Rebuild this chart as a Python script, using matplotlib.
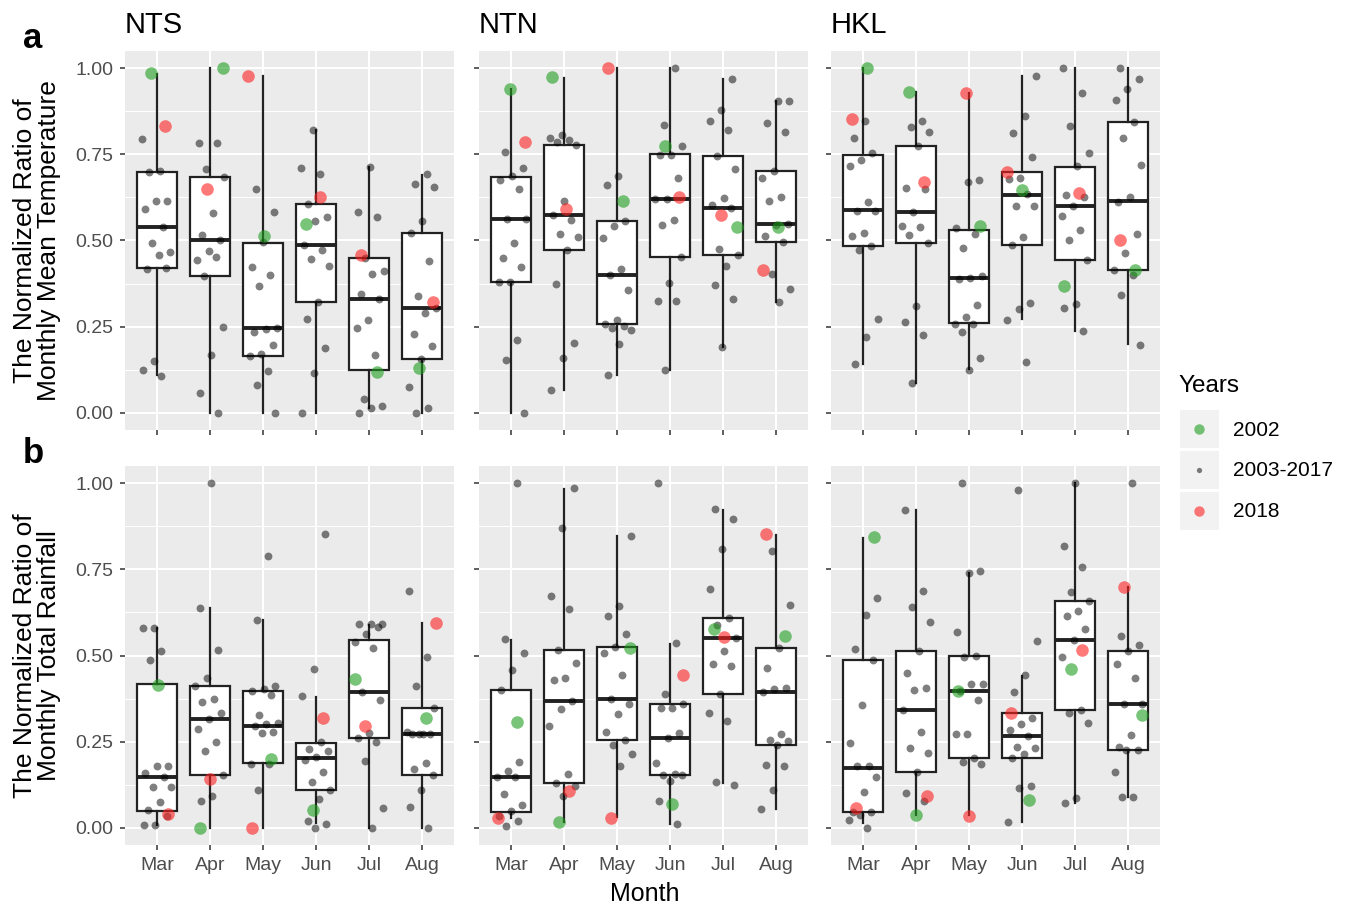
"""
Normalized monthly temperature / rainfall ratios, boxplots with jittered years.

matplotlib: everything is drawn with bxp() and scatter()
"""

import numpy as np
import matplotlib
matplotlib.use("Agg")
import matplotlib.pyplot as plt
from matplotlib.lines import Line2D
from matplotlib.patches import Rectangle
from matplotlib.legend_handler import HandlerBase

plt.rcParams['font.family'] = ['Liberation Sans', 'DejaVu Sans']

months = ['Mar', 'Apr', 'May', 'Jun', 'Jul', 'Aug']
sites = ['NTS', 'NTN', 'HKL']

# box stats per month: (whisker low, q1, median, q3, whisker high)
temp_box = {
    'NTS': [(0.109, 0.420, 0.538, 0.699, 0.983), (0.0, 0.396, 0.500, 0.684, 1.0),
            (0.0, 0.164, 0.246, 0.493, 0.976), (0.0, 0.322, 0.488, 0.606, 0.821),
            (0.014, 0.124, 0.331, 0.448, 0.712), (0.0, 0.155, 0.304, 0.522, 0.691)],
    'NTN': [(0.0, 0.379, 0.563, 0.685, 0.939), (0.066, 0.473, 0.575, 0.778, 0.973),
            (0.111, 0.258, 0.401, 0.556, 1.0), (0.124, 0.452, 0.620, 0.751, 1.0),
            (0.190, 0.459, 0.593, 0.744, 0.968), (0.321, 0.496, 0.549, 0.703, 0.905)],
    'HKL': [(0.142, 0.485, 0.589, 0.748, 1.0), (0.087, 0.493, 0.582, 0.773, 0.932),
            (0.126, 0.261, 0.391, 0.531, 0.929), (0.271, 0.488, 0.633, 0.698, 0.978),
            (0.237, 0.443, 0.600, 0.714, 1.0), (0.200, 0.414, 0.614, 0.843, 1.0)],
}
temp_2002 = {
    'NTS': [0.985, 1.0, 0.514, 0.548, 0.119, 0.130],
    'NTN': [0.939, 0.975, 0.616, 0.773, 0.539, 0.538],
    'HKL': [1.0, 0.932, 0.541, 0.646, 0.369, 0.414],
}
temp_2018 = {
    'NTS': [0.831, 0.650, 0.976, 0.625, 0.459, 0.322],
    'NTN': [0.786, 0.592, 1.0, 0.625, 0.573, 0.413],
    'HKL': [0.854, 0.671, 0.929, 0.699, 0.638, 0.500],
}
# 2003-2017 values, one list per month
temp_pts = {
    'NTS': [[0.796, 0.701, 0.700, 0.615, 0.615, 0.590, 0.538, 0.493, 0.468, 0.457, 0.418, 0.420, 0.150, 0.124, 0.108],
            [0.784, 0.784, 0.707, 0.685, 0.580, 0.516, 0.500, 0.469, 0.442, 0.452, 0.396, 0.249, 0.169, 0.057, 0.0],
            [0.650, 0.583, 0.495, 0.423, 0.401, 0.367, 0.246, 0.243, 0.235, 0.198, 0.171, 0.164, 0.121, 0.082, 0.0],
            [0.821, 0.710, 0.694, 0.606, 0.567, 0.557, 0.488, 0.471, 0.447, 0.425, 0.322, 0.271, 0.187, 0.116, 0.0],
            [0.714, 0.582, 0.568, 0.448, 0.411, 0.402, 0.345, 0.331, 0.268, 0.245, 0.169, 0.039, 0.020, 0.014, 0.0],
            [0.693, 0.664, 0.654, 0.558, 0.522, 0.440, 0.338, 0.304, 0.289, 0.230, 0.195, 0.155, 0.075, 0.014, 0.0]],
    'NTN': [[0.758, 0.710, 0.686, 0.677, 0.650, 0.563, 0.563, 0.492, 0.448, 0.423, 0.379, 0.379, 0.212, 0.152, 0.0],
            [0.807, 0.797, 0.792, 0.786, 0.778, 0.614, 0.575, 0.560, 0.518, 0.509, 0.473, 0.375, 0.203, 0.158, 0.066],
            [0.686, 0.661, 0.557, 0.543, 0.506, 0.418, 0.401, 0.355, 0.268, 0.258, 0.251, 0.246, 0.239, 0.200, 0.111],
            [1.0, 0.835, 0.774, 0.749, 0.749, 0.682, 0.620, 0.620, 0.560, 0.546, 0.452, 0.377, 0.324, 0.324, 0.124],
            [0.968, 0.879, 0.846, 0.822, 0.744, 0.708, 0.624, 0.603, 0.593, 0.476, 0.459, 0.426, 0.372, 0.331, 0.190],
            [0.905, 0.905, 0.840, 0.814, 0.703, 0.682, 0.627, 0.614, 0.549, 0.546, 0.513, 0.496, 0.403, 0.360, 0.321]],
    'HKL': [[0.847, 0.797, 0.753, 0.735, 0.717, 0.611, 0.587, 0.587, 0.522, 0.512, 0.485, 0.471, 0.273, 0.219, 0.142],
            [0.847, 0.829, 0.814, 0.773, 0.652, 0.649, 0.582, 0.542, 0.539, 0.515, 0.493, 0.311, 0.263, 0.226, 0.087],
            [0.676, 0.669, 0.536, 0.520, 0.478, 0.397, 0.391, 0.388, 0.312, 0.277, 0.258, 0.258, 0.234, 0.159, 0.124],
            [0.978, 0.860, 0.812, 0.743, 0.681, 0.679, 0.635, 0.599, 0.599, 0.511, 0.488, 0.319, 0.302, 0.270, 0.148],
            [1.0, 0.927, 0.833, 0.753, 0.717, 0.633, 0.627, 0.599, 0.571, 0.531, 0.502, 0.443, 0.317, 0.305, 0.237],
            [1.0, 0.968, 0.941, 0.907, 0.843, 0.797, 0.718, 0.627, 0.612, 0.519, 0.465, 0.414, 0.401, 0.343, 0.198]],
}

rain_box = {
    'NTS': [(0.008, 0.048, 0.147, 0.417, 0.579), (0.0, 0.152, 0.317, 0.411, 0.637),
            (0.0, 0.189, 0.295, 0.397, 0.603), (0.015, 0.109, 0.203, 0.247, 0.380),
            (0.0, 0.262, 0.394, 0.546, 0.589), (0.0, 0.152, 0.271, 0.349, 0.594)],
    'NTN': [(0.029, 0.046, 0.148, 0.399, 0.546), (0.016, 0.131, 0.369, 0.516, 0.984),
            (0.031, 0.254, 0.375, 0.526, 0.848), (0.012, 0.153, 0.260, 0.358, 0.534),
            (0.131, 0.389, 0.550, 0.610, 0.922), (0.055, 0.239, 0.394, 0.522, 0.851)],
    'HKL': [(0.015, 0.046, 0.173, 0.486, 0.841), (0.036, 0.162, 0.342, 0.514, 0.921),
            (0.036, 0.202, 0.397, 0.499, 0.738), (0.016, 0.203, 0.266, 0.334, 0.441),
            (0.073, 0.341, 0.545, 0.658, 1.0), (0.089, 0.225, 0.359, 0.514, 0.698)],
}
rain_2002 = {
    'NTS': [0.415, 0.0, 0.201, 0.053, 0.431, 0.318],
    'NTN': [0.308, 0.016, 0.521, 0.068, 0.576, 0.558],
    'HKL': [0.843, 0.036, 0.397, 0.082, 0.460, 0.328],
}
rain_2018 = {
    'NTS': [0.039, 0.141, 0.0, 0.320, 0.294, 0.594],
    'NTN': [0.029, 0.107, 0.029, 0.443, 0.555, 0.854],
    'HKL': [0.058, 0.093, 0.033, 0.334, 0.517, 0.698],
}
rain_pts = {
    'NTS': [[0.581, 0.581, 0.512, 0.488, 0.179, 0.179, 0.159, 0.148, 0.118, 0.118, 0.076, 0.052, 0.034, 0.008, 0.008],
            [1.0, 0.639, 0.516, 0.436, 0.411, 0.374, 0.364, 0.333, 0.317, 0.288, 0.250, 0.223, 0.152, 0.091, 0.079],
            [0.790, 0.604, 0.411, 0.403, 0.397, 0.385, 0.327, 0.304, 0.300, 0.295, 0.279, 0.276, 0.186, 0.186, 0.109],
            [0.852, 0.460, 0.382, 0.249, 0.228, 0.223, 0.206, 0.197, 0.163, 0.134, 0.109, 0.083, 0.019, 0.010, 0.0],
            [0.591, 0.591, 0.591, 0.584, 0.563, 0.538, 0.521, 0.395, 0.372, 0.276, 0.262, 0.250, 0.194, 0.058, 0.0],
            [0.688, 0.497, 0.411, 0.349, 0.271, 0.271, 0.271, 0.271, 0.279, 0.187, 0.170, 0.152, 0.109, 0.060, 0.0]],
    'NTN': [[1.0, 0.547, 0.508, 0.457, 0.399, 0.192, 0.165, 0.148, 0.148, 0.097, 0.067, 0.048, 0.034, 0.019, 0.005],
            [0.986, 0.870, 0.673, 0.636, 0.516, 0.478, 0.436, 0.429, 0.369, 0.344, 0.295, 0.157, 0.131, 0.121, 0.092],
            [0.848, 0.643, 0.614, 0.562, 0.526, 0.506, 0.443, 0.375, 0.359, 0.329, 0.279, 0.254, 0.240, 0.213, 0.178],
            [1.0, 0.535, 0.388, 0.360, 0.347, 0.347, 0.276, 0.260, 0.187, 0.157, 0.153, 0.153, 0.136, 0.079, 0.012],
            [0.924, 0.896, 0.809, 0.692, 0.610, 0.589, 0.550, 0.514, 0.475, 0.469, 0.389, 0.334, 0.310, 0.133, 0.125],
            [0.804, 0.646, 0.522, 0.463, 0.407, 0.402, 0.394, 0.271, 0.256, 0.252, 0.239, 0.181, 0.179, 0.110, 0.055]],
    'HKL': [[0.666, 0.617, 0.519, 0.486, 0.357, 0.246, 0.178, 0.178, 0.147, 0.105, 0.046, 0.046, 0.037, 0.024, 0.0],
            [0.922, 0.687, 0.642, 0.596, 0.514, 0.449, 0.407, 0.401, 0.342, 0.279, 0.231, 0.218, 0.162, 0.100, 0.078],
            [1.0, 0.744, 0.738, 0.567, 0.499, 0.497, 0.417, 0.417, 0.397, 0.371, 0.273, 0.271, 0.203, 0.192, 0.184],
            [0.979, 0.543, 0.443, 0.394, 0.318, 0.300, 0.283, 0.266, 0.233, 0.231, 0.215, 0.203, 0.121, 0.116, 0.016],
            [1.0, 0.819, 0.756, 0.685, 0.659, 0.628, 0.616, 0.577, 0.545, 0.496, 0.341, 0.332, 0.305, 0.085, 0.071],
            [1.0, 0.557, 0.531, 0.514, 0.476, 0.436, 0.359, 0.359, 0.268, 0.233, 0.225, 0.225, 0.161, 0.089, 0.089]],
}

ylabels = ['The Normalized Ratio of\nMonthly Mean Temperature',
           'The Normalized Ratio of\nMonthly Total Rainfall']
panel_tags = ['a', 'b']
legend_labels = ['2002', '2003-2017', '2018']

green = '#1E9E1E'
red = '#FF2020'
grey_txt = '#4D4D4D'


def jitter(n, shift):
    # deterministic spread (golden ratio steps), about +-0.28 box units
    return ((np.arange(n) * 0.618034 + shift) % 1.0 - 0.5) * 0.56


# figure layout in pixels (1348 x 907 at dpi 100)
W, H = 1348, 907
fig = plt.figure(figsize=(W / 100, H / 100), dpi=100)
fig.patch.set_facecolor('white')

col_left = [125, 479, 831]
panel_w = 329
row_top = [51, 466]
panel_h = 379

pos = np.arange(1, len(months) + 1)
rows = [(temp_box, temp_2002, temp_2018, temp_pts),
        (rain_box, rain_2002, rain_2018, rain_pts)]

for r, (box, d02, d18, pts) in enumerate(rows):
    for c, site in enumerate(sites):
        ax = fig.add_axes([col_left[c] / W, 1 - (row_top[r] + panel_h) / H,
                           panel_w / W, panel_h / H])
        ax.set_facecolor('#EBEBEB')
        for s in ax.spines.values():
            s.set_visible(False)

        # boxes
        stats = [{'whislo': b[0], 'q1': b[1], 'med': b[2], 'q3': b[3],
                  'whishi': b[4], 'fliers': []} for b in box[site]]
        ax.bxp(stats, positions=pos, widths=0.75, patch_artist=True,
               showfliers=False, showcaps=False,
               boxprops=dict(facecolor='white', edgecolor='#222222', linewidth=1.6),
               whiskerprops=dict(color='#222222', linewidth=1.6),
               medianprops=dict(color='#222222', linewidth=2.8, solid_capstyle='butt'),
               zorder=2)

        # jittered years
        for i in range(len(months)):
            vals = pts[site][i]
            xs = pos[i] + jitter(len(vals), 0.13 * i + 0.29 * c + 0.41 * r)
            ax.scatter(xs, vals, s=32, color='black', alpha=0.5, linewidths=0, zorder=3)
        g_off = jitter(len(months), 0.31 + 0.17 * c + 0.23 * r)
        r_off = jitter(len(months), 0.77 + 0.19 * c + 0.11 * r)
        ax.scatter(pos + g_off, d02[site], s=82, color=green, alpha=0.6,
                   linewidths=0, zorder=4)
        ax.scatter(pos + r_off, d18[site], s=82, color=red, alpha=0.6,
                   linewidths=0, zorder=4)

        ax.set_xlim(0.4, 6.6)
        ax.set_ylim(-0.05, 1.05)
        ax.set_xticks(pos)
        ax.set_yticks([0, 0.25, 0.5, 0.75, 1.0])
        ax.set_yticks([0.125, 0.375, 0.625, 0.875], minor=True)
        ax.grid(which='major', color='white', linewidth=1.5)
        ax.grid(which='minor', axis='y', color='white', linewidth=0.75)
        ax.set_axisbelow(True)
        ax.tick_params(which='major', length=3.8, width=1.1, color='#333333',
                       labelcolor=grey_txt, labelsize=14, pad=4.5)
        ax.tick_params(which='minor', length=0)

        if c == 0:
            ax.set_yticklabels(['0.00', '0.25', '0.50', '0.75', '1.00'])
        else:
            ax.set_yticklabels([])
        if r == 1:
            ax.set_xticklabels(months)
        else:
            ax.set_xticklabels([])
        if r == 0:
            ax.set_title(site, loc='left', fontsize=21, pad=13)

    # row label and y title
    fig.text(33 / W, 1 - (row_top[r] - 3) / H, panel_tags[r], fontsize=25,
             fontweight='bold', ha='center', va='baseline')
    fig.text(37 / W, 1 - (row_top[r] + panel_h / 2) / H, ylabels[r],
             rotation=90, fontsize=19, ha='center', va='center',
             linespacing=0.95)

fig.text(645 / W, 1 - 901 / H, 'Month', fontsize=18, ha='center', va='baseline')


# legend keys with the grey ggplot square behind each dot
class KeyBox(HandlerBase):
    def create_artists(self, legend, orig_handle, xdescent, ydescent,
                       width, height, fontsize, trans):
        bg = Rectangle((-xdescent, -ydescent), width, height,
                       facecolor='#F2F2F2', edgecolor='none', transform=trans)
        dot = Line2D([width / 2 - xdescent], [height / 2 - ydescent], ls='none',
                     marker='o', markersize=orig_handle.get_markersize(),
                     markerfacecolor=orig_handle.get_markerfacecolor(),
                     markeredgewidth=0, alpha=orig_handle.get_alpha(),
                     transform=trans)
        return [bg, dot]


handles = [Line2D([], [], ls='none', marker='o', markersize=7.5, markerfacecolor=green, alpha=0.6),
           Line2D([], [], ls='none', marker='o', markersize=3.8, markerfacecolor='black', alpha=0.5),
           Line2D([], [], ls='none', marker='o', markersize=7.5, markerfacecolor=red, alpha=0.6)]

# legend title as its own text so the gap under it matches ggplot
fig.text(1178 / W, 1 - 392 / H, 'Years', fontsize=17.5, ha='left', va='baseline')
leg = fig.legend(handles, legend_labels,
                 loc='upper left', bbox_to_anchor=(1180 / W, 1 - 410 / H),
                 frameon=False, fontsize=15,
                 handlelength=1.85, handleheight=2.45, labelspacing=0.12,
                 handletextpad=0.7, borderpad=0, borderaxespad=0,
                 handler_map={Line2D: KeyBox()})

plt.savefig('out.png', dpi=100)
